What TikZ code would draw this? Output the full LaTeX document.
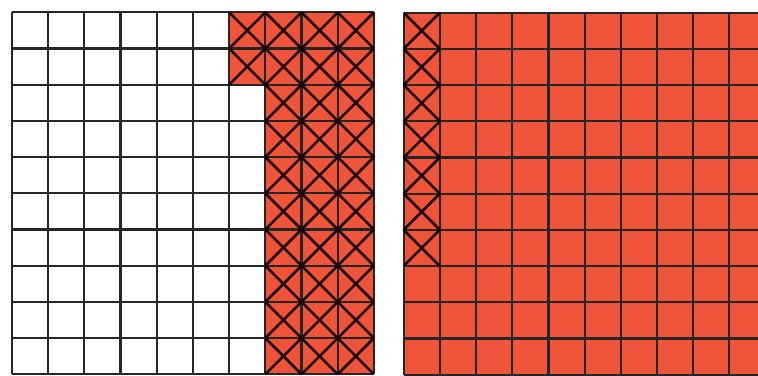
\documentclass[tikz,border=0pt]{standalone}
\usetikzlibrary{calc}
\definecolor{tilered}{RGB}{238,84,58}
\tikzset{
  gridline/.style={line width=1.7pt, black!85},
  crossline/.style={line width=2pt, black!80!red!60!black},
}
\begin{document}
\begin{tikzpicture}[x=1cm, y=-1cm]
    % Frame of the picture
    \useasboundingbox (0,0) rectangle (20.94,10.36);
    \clip (0,0) rectangle (20.94,10.36);
    % Corners of the two squares
    \coordinate (L) at (0.33,0.34);
    \coordinate (R) at (11.15,0.35);

    % Left square
    \begin{scope}[shift={(L)}]
        \fill[tilered] (6,0) rectangle (10,2);
        \fill[tilered] (7,2) rectangle (10,10);
        \draw[gridline] (0,0) grid (10,10);
        % crosses
        \foreach \r in {0,1}
            \draw[crossline] (6,\r) -- ++(1,1) (7,\r) -- ++(-1,1);
        \foreach \r in {0,...,9}
            \foreach \c in {7,8,9}
                \draw[crossline] (\c,\r) -- ++(1,1) (\c+1,\r) -- ++(-1,1);
    \end{scope}

    % Right square
    \begin{scope}[shift={(R)}]
        \fill[tilered] (0,0) rectangle (10,10);
        \draw[gridline] (0,0) grid (10,10);
        % crosses
        \foreach \r in {0,...,6}
            \draw[crossline] (0,\r) -- ++(1,1) (1,\r) -- ++(-1,1);
    \end{scope}
\end{tikzpicture}
\end{document}
